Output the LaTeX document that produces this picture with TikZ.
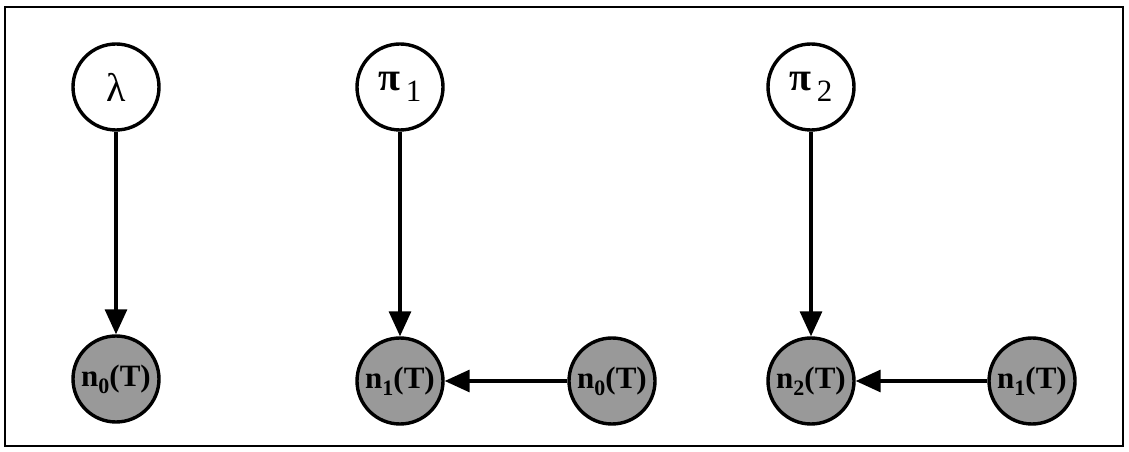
\documentclass[tikz,border=0pt]{standalone}
\usepackage{fontspec}
\setmainfont{Liberation Serif}
\usetikzlibrary{arrows.meta}
\newcommand{\sbs}[1]{\raisebox{-0.22em}{\fontsize{22}{22}\selectfont #1}}
\newcommand{\pisub}[1]{{\fontsize{40}{40}\selectfont\bfseries π}\,\raisebox{-0.37em}{#1}}
\begin{document}
\begin{tikzpicture}[x=1pt,y=1pt,
  var/.style={circle,draw=black,line width=3.4pt,minimum size=86pt,inner sep=0pt,
    font=\fontsize{31}{32}\selectfont},
  obs/.style={var,fill=black!40,font=\fontsize{31}{32}\selectfont\bfseries},
  arr/.style={line width=3.2pt,-{Triangle[length=25pt,width=22pt]}}]
\useasboundingbox (0,0) rectangle (1129,452);
\draw[line width=2.2pt] (5,6) rectangle (1123,445);
\node[var] (lam) at (116,365) {{\fontsize{40}{40}\selectfont λ}};
\node[var] (pi1) at (400,365) {\pisub{1}};
\node[var] (pi2) at (811,365) {\pisub{2}};
\node[obs] (n0a) at (116,73) {n\sbs{0}(T)};
\node[obs] (n1a) at (400,71) {n\sbs{1}(T)};
\node[obs] (n0b) at (612,71) {n\sbs{0}(T)};
\node[obs] (n2) at (811,71) {n\sbs{2}(T)};
\node[obs] (n1b) at (1032,71) {n\sbs{1}(T)};
\draw[arr] (lam) -- (n0a);
\draw[arr] (pi1) -- (n1a);
\draw[arr] (pi2) -- (n2);
\draw[arr] (n0b) -- (n1a);
\draw[arr] (n1b) -- (n2);
\end{tikzpicture}
\end{document}
